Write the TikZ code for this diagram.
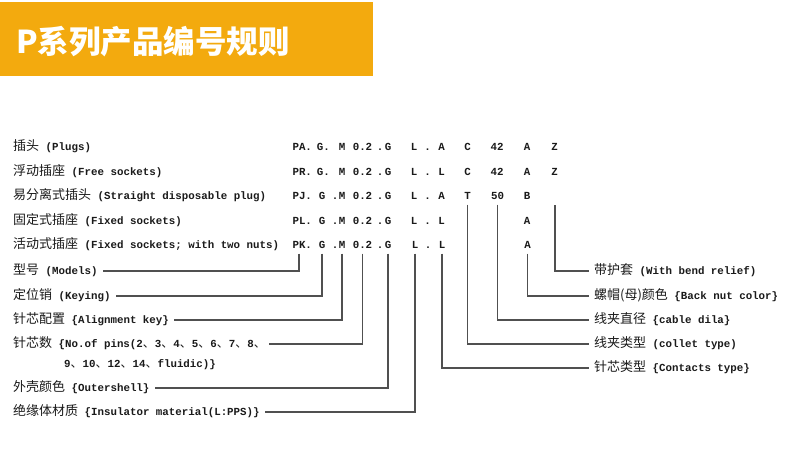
\documentclass[tikz,border=0pt]{standalone}
\usepackage{fontspec}
\setmainfont{Liberation Mono}
\newfontfamily\cjk{Noto Sans CJK SC}
\newcommand\zh[1]{{\cjk\mdseries\fontsize{13}{13}\selectfont #1}}
\newcommand\dun{{\cjk\mdseries\fontsize{12}{12}\selectfont 、}}
\definecolor{hdr}{HTML}{F3AA0E}
\definecolor{txt}{HTML}{1A1A1A}
\definecolor{ln}{HTML}{505050}
\begin{document}
\begin{tikzpicture}[x=1pt,y=-1pt,
  lab/.style={anchor=west, inner sep=0pt, text height=9pt, text depth=3pt,
    font=\bfseries\fontsize{10.8}{13}\selectfont, text=txt},
  code/.style={inner xsep=0pt, inner ysep=2pt, outer ysep=1.5pt, text height=8pt, text depth=2pt,
    font=\bfseries\fontsize{10.8}{13}\selectfont, text=txt},
  conn/.style={draw=ln, line width=1.3pt}]
\useasboundingbox (0,0) rectangle (790,467);
\fill[white] (0,0) rectangle (790,467);
\fill[hdr] (0,2) rectangle (373,76);
\node[anchor=base west, inner sep=0pt, text=white,
  font=\cjk\bfseries\fontsize{31.5}{32}\selectfont] (title) at (16,53) {P系列产品编号规则};

% left labels (rows)
\node[lab] (lPlug)  at (13,147) {\zh{插头} (Plugs)};
\node[lab] (lFree)  at (13,172) {\zh{浮动插座} (Free sockets)};
\node[lab] (lStr)   at (13,196) {\zh{易分离式插头} (Straight disposable plug)};
\node[lab] (lFix)   at (13,221) {\zh{固定式插座} (Fixed sockets)};
\node[lab] (lNuts)  at (13,245) {\zh{活动式插座} (Fixed sockets; with two nuts)};

% code rows
% row 1
\node[code] (p1) at (299,147) {PA};  \node[code] (d1a) at (308.5,147) {.};
\node[code] (g1) at (320,147) {G};   \node[code] (d1b) at (326.5,147) {.};
\node[code] (m1) at (342,147) {M};
\node[code] (n1) at (362.5,147) {0.2};
\node[code] (d1c) at (380,147) {.};  \node[code] (gg1) at (388,147) {G};
\node[code] (la1) at (414,147) {L};  \node[code] (d1d) at (427.5,147) {.};
\node[code] (lb1) at (441.5,147) {A};
\node[code] (t1) at (467.5,147) {C};
\node[code] (k1) at (497,147) {42};
\node[code] (a1) at (527,147) {A};
\node[code] (z1) at (554.5,147) {Z};
% row 2
\node[code] (p2) at (299,172) {PR};  \node[code] (d2a) at (308.5,172) {.};
\node[code] (g2) at (320,172) {G};   \node[code] (d2b) at (326.5,172) {.};
\node[code] (m2) at (342,172) {M};
\node[code] (n2) at (362.5,172) {0.2};
\node[code] (d2c) at (380,172) {.};  \node[code] (gg2) at (388,172) {G};
\node[code] (la2) at (414,172) {L};  \node[code] (d2d) at (427.5,172) {.};
\node[code] (lb2) at (441.5,172) {L};
\node[code] (t2) at (467.5,172) {C};
\node[code] (k2) at (497,172) {42};
\node[code] (a2) at (527,172) {A};
\node[code] (z2) at (554.5,172) {Z};
% row 3
\node[code] (p3) at (299,196) {PJ};  \node[code] (d3a) at (308.5,196) {.};
\node[code] (g3) at (322,196) {G};   \node[code] (d3b) at (335,196) {.};
\node[code] (m3) at (342,196) {M};
\node[code] (n3) at (362.5,196) {0.2};
\node[code] (d3c) at (380,196) {.};  \node[code] (gg3) at (388,196) {G};
\node[code] (la3) at (414,196) {L};  \node[code] (d3d) at (427.5,196) {.};
\node[code] (lb3) at (441.5,196) {A};
\node[code] (t3) at (467.5,196) {T};
\node[code] (k3) at (497.5,196) {50};
\node[code] (a3) at (527,196) {B};
% row 4
\node[code] (p4) at (299,221) {PL};  \node[code] (d4a) at (308.5,221) {.};
\node[code] (g4) at (322,221) {G};   \node[code] (d4b) at (335,221) {.};
\node[code] (m4) at (342,221) {M};
\node[code] (n4) at (362.5,221) {0.2};
\node[code] (d4c) at (380,221) {.};  \node[code] (gg4) at (388,221) {G};
\node[code] (la4) at (414,221) {L};  \node[code] (d4d) at (427.5,221) {.};
\node[code] (lb4) at (441.5,221) {L};
\node[code] (a4) at (527,221) {A};
% row 5
\node[code] (p5) at (299,245) {PK};  \node[code] (d5a) at (308.5,245) {.};
\node[code] (g5) at (322,245) {G};   \node[code] (d5b) at (335,245) {.};
\node[code] (m5) at (342,245) {M};
\node[code] (n5) at (362.5,245) {0.2};
\node[code] (d5c) at (380,245) {.};  \node[code] (gg5) at (388,245) {G};
\node[code] (la5) at (415,245) {L};  \node[code] (d5d) at (428,245) {.};
\node[code] (lb5) at (442,245) {L};
\node[code] (a5) at (527.5,245) {A};
\coordinate (zTop) at (555,205);

% lower-left labels
\node[lab] (lModels) at (13,271) {\zh{型号} (Models)};
\node[lab] (lKey)    at (13,296) {\zh{定位销} (Keying)};
\node[lab] (lAlign)  at (13,320) {\zh{针芯配置} \{Alignment key\}};
\node[lab] (lPins)   at (13,344) {\zh{针芯数} \{No.of pins(2\dun 3\dun 4\dun 5\dun 6\dun 7\dun 8\dun};
\node[lab] (lPins2)  at (64,364) {9\dun 10\dun 12\dun 14\dun fluidic)\}};
\node[lab] (lShell)  at (13,388) {\zh{外壳颜色} \{Outershell\}};
\node[lab] (lIns)    at (13,412) {\zh{绝缘体材质} \{Insulator material(L:PPS)\}};

% right labels
\node[lab] (rBend)    at (594,271) {\zh{带护套} (With bend relief)};
\node[lab] (rNut)     at (594,296) {\zh{螺帽(母)颜色} \{Back nut color\}};
\node[lab] (rDia)     at (594,320) {\zh{线夹直径} \{cable dila\}};
\node[lab] (rCollet)  at (594,344) {\zh{线夹类型} (collet type)};
\node[lab] (rContact) at (594,368) {\zh{针芯类型} \{Contacts type\}};

% connectors
\draw[conn] (p5.south)  |- ([xshift=5pt]lModels.east);
\draw[conn] (g5.south)  |- ([xshift=5pt]lKey.east);
\draw[conn] (m5.south)  |- ([xshift=5pt]lAlign.east);
\draw[conn] (n5.south)  |- ([xshift=3pt]lPins.east);
\draw[conn] (gg5.south) |- ([xshift=5pt]lShell.east);
\draw[conn] (la5.south) |- ([xshift=5pt]lIns.east);
\draw[conn] (lb5.south) |- ([xshift=-5pt]rContact.west);
\draw[conn] (t3.south)  |- ([xshift=-5pt]rCollet.west);
\draw[conn] (k3.south)  |- ([xshift=-5pt]rDia.west);
\draw[conn] (a5.south)  |- ([xshift=-5pt]rNut.west);
\draw[conn] (zTop)      |- ([xshift=-5pt]rBend.west);
\end{tikzpicture}
\end{document}
